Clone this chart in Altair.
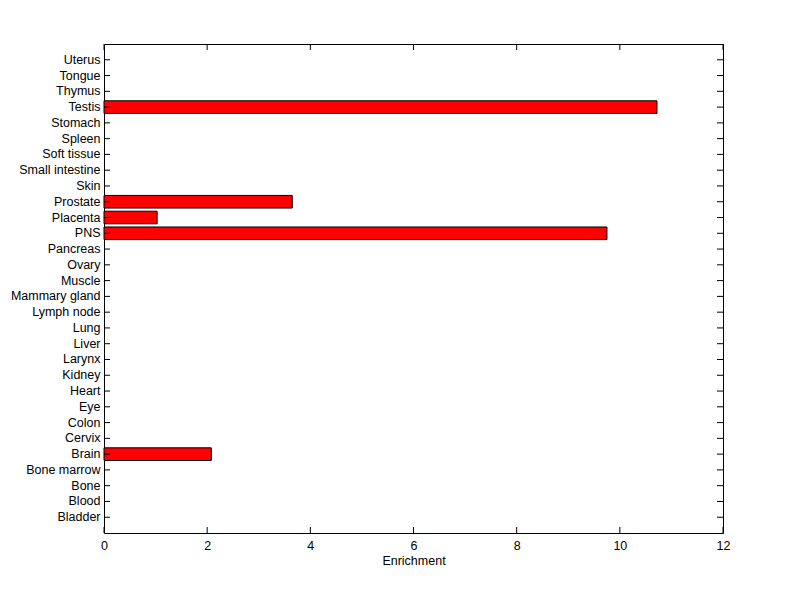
import altair as alt
import pandas as pd

tissues = ["Bladder", "Blood", "Bone", "Bone marrow", "Brain", "Cervix", "Colon", "Eye",
           "Heart", "Kidney", "Larynx", "Liver", "Lung", "Lymph node", "Mammary gland",
           "Muscle", "Ovary", "Pancreas", "PNS", "Placenta", "Prostate", "Skin",
           "Small intestine", "Soft tissue", "Spleen", "Stomach", "Testis", "Thymus",
           "Tongue", "Uterus"]
enrichment = [0, 0, 0, 0, 2.08, 0, 0, 0,
              0, 0, 0, 0, 0, 0, 0,
              0, 0, 0, 9.75, 1.03, 3.65, 0,
              0, 0, 0, 0, 10.72, 0,
              0, 0]
x_ticks = [0, 2, 4, 6, 8, 10, 12]

W, H = 619, 489
FONT = "Liberation Sans"
FS = 12.5
order = list(reversed(tissues))

df = pd.DataFrame({"tissue": tissues, "value": enrichment})
ticks_df = pd.DataFrame({"t": x_ticks})

yscale = alt.Scale(domain=order, paddingInner=0.2, paddingOuter=0.6)
xscale = alt.Scale(domain=[0, 12], nice=False, zero=True)

bars = alt.Chart(df).transform_filter("datum.value > 0").mark_bar(
    color="#ff0000", stroke="black", strokeWidth=1
).encode(
    y=alt.Y("tissue:N", scale=yscale, sort=order,
            axis=alt.Axis(title=None, ticks=False, domain=True, domainColor="black",
                          labelPadding=4, labelFont=FONT, labelFontSize=FS,
                          labelColor="black")),
    x=alt.X("value:Q", scale=xscale,
            axis=alt.Axis(title="Enrichment", values=x_ticks, ticks=False, domain=True,
                          domainColor="black", grid=False, labelPadding=6,
                          labelFont=FONT, labelFontSize=FS, labelColor="black",
                          titleFont=FONT, titleFontSize=FS, titleFontWeight="normal",
                          titleColor="black", titlePadding=3, labelFlush=False)),
)

right_ticks = alt.Chart(df).mark_rule(color="black", strokeWidth=1).encode(
    y=alt.Y("tissue:N", scale=yscale, sort=order,
            axis=alt.Axis(orient="right", title=None, labels=False, ticks=False,
                          domain=True, domainColor="black")),
    x=alt.value(W - 6), x2=alt.value(W),
)
top_ticks = alt.Chart(ticks_df).mark_rule(color="black", strokeWidth=1).encode(
    x=alt.X("t:Q", scale=xscale,
            axis=alt.Axis(orient="top", title=None, labels=False, ticks=False,
                          domain=True, domainColor="black", grid=False)),
    y=alt.value(0), y2=alt.value(6),
)

left_ticks = alt.Chart(df).mark_rule(color="black", strokeWidth=1).encode(
    y=alt.Y("tissue:N", scale=yscale, sort=order, axis=None),
    x=alt.value(0), x2=alt.value(6),
)
bottom_ticks = alt.Chart(ticks_df).mark_rule(color="black", strokeWidth=1).encode(
    x=alt.X("t:Q", scale=xscale, axis=None),
    y=alt.value(H - 6), y2=alt.value(H),
)

chart = alt.layer(bars, left_ticks, bottom_ticks, right_ticks, top_ticks).resolve_axis(
    x="independent", y="independent"
).properties(
    width=W, height=H,
    autosize=alt.AutoSizeParams(type="none"),
    padding={"left": 96, "top": 36, "right": 69, "bottom": 58},
).configure_view(stroke=None).configure(background="white")

chart.save("out.html", embed_options={"renderer": "svg", "actions": False})
